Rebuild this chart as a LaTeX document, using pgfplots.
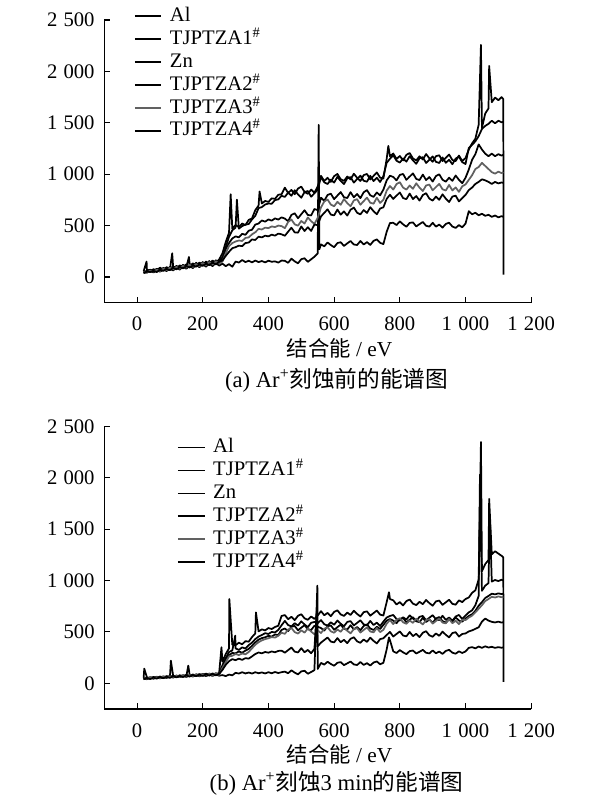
\documentclass[border=0pt]{standalone}
\usepackage{fontspec}
\setmainfont{Liberation Serif}
\newfontfamily\cjk{Noto Sans CJK SC}
\usepackage{pgfplots}
\usepackage{pgfplotstable}
\pgfplotsset{compat=1.18}

% panel (a): x, Al(A), TJPTZA1(B), TJPTZA2(C), TJPTZA3(D), TJPTZA4(E), Zn(F)
\pgfplotstableread{
x A B C D E F
20 55 48 42 46 38 40
29 150 nan nan nan nan nan
30 72 60 55 40 52 45
40 58 70 48 62 50 58
50 75 55 68 52 60 44
60 66 80 58 70 48 62
70 90 62 75 58 70 52
80 72 88 64 80 60 70
90 95 70 85 66 78 58
100 80 98 72 90 66 80
107 nan nan 230 nan nan nan
110 102 78 95 74 88 64
120 88 108 80 98 75 90
130 112 86 102 80 95 72
140 98 118 88 108 84 100
150 122 95 112 90 105 80
158 nan 195 nan nan nan nan
160 105 128 96 118 92 108
170 132 100 122 98 112 86
180 112 138 104 126 100 118
190 140 108 130 105 122 95
200 120 145 112 136 108 125
210 150 115 140 112 130 100
220 128 155 118 145 115 132
230 160 122 150 120 140 105
240 138 162 128 152 122 140
250 170 135 158 130 148 110
260 230 175 190 150 160 130
270 340 290 270 230 205 105
280 430 390 330 300 245 125
285 805 nan nan nan nan nan
290 470 455 375 330 280 100
300 505 480 395 345 290 150
304 nan 752 nan nan nan nan
310 485 470 385 355 305 140
320 520 495 420 350 300 165
330 505 510 410 380 330 145
340 555 515 450 385 335 158
350 570 560 460 415 365 142
360 650 595 510 435 360 160
370 695 670 520 468 392 145
373 832 nan nan nan nan nan
380 715 680 550 462 385 155
390 740 705 538 480 402 142
400 730 715 560 475 395 158
410 765 712 548 492 412 148
420 760 748 570 485 402 152
430 800 755 558 500 422 140
440 805 790 580 495 415 160
450 869 779 568 475 401 157
460 817 820 542 535 441 138
470 847 790 604 559 479 178
480 805 844 620 512 434 152
490 860 803 571 499 431 133
500 879 771 611 545 492 173
510 827 826 649 520 447 182
520 809 836 603 579 484 147
530 850 781 599 543 448 172
540 820 814 661 516 510 197
550 880 850 650 575 505 230
553 nan nan nan nan nan 1480
555 nan nan nan nan nan 270
560 984 971 771 677 589 317
570 934 921 741 734 624 298
580 965 904 798 754 658 336
590 925 947 810 704 607 310
600 981 918 757 688 599 290
610 1002 974 792 731 656 330
620 951 934 826 702 606 338
630 935 904 776 758 638 302
640 977 960 768 719 597 327
650 949 972 825 688 654 350
660 1004 918 775 745 675 316
670 965 953 807 757 625 311
680 934 986 767 703 609 350
690 991 936 824 738 651 316
700 1002 927 845 772 623 339
710 949 984 795 722 679 312
720 983 933 779 713 640 351
730 1017 965 822 770 610 366
740 966 924 794 720 666 332
750 958 981 850 751 678 320
760 1150 1110 940 840 760 440
765 1275 nan nan nan nan nan
770 1175 1150 985 885 800 525
780 1201 1184 973 850 759 527
790 1148 1131 940 904 791 505
800 1177 1113 993 922 822 541
810 1134 1153 1002 869 768 512
820 1188 1122 945 850 757 489
830 1206 1175 977 890 811 526
840 1153 1134 1008 858 758 531
850 1134 1101 954 911 787 492
860 1174 1155 943 869 743 514
870 1143 1165 996 836 797 535
880 1196 1109 943 890 815 498
890 1154 1141 972 899 762 490
900 1121 1173 928 843 743 527
910 1175 1120 982 875 782 490
920 1184 1109 999 906 751 510
930 1128 1163 946 853 804 480
940 1160 1111 927 841 762 516
950 1191 1140 966 895 729 528
960 1138 1097 935 842 782 491
970 1127 1152 987 871 791 477
980 1181 1170 945 828 735 505
990 1128 1117 912 882 767 483
1000 1157 1099 965 900 798 519
1010 1240 1255 1045 945 845 640
1020 1300 1285 1140 990 870 610
1030 1345 1320 1195 1050 905 625
1040 1480 1370 1290 1070 925 600
1047 2258 nan nan nan nan nan
1050 1450 1440 1240 1110 950 615
1060 1590 1470 1200 1080 940 595
1070 1640 1490 1175 1050 925 605
1072 2053 nan nan nan nan nan
1080 1700 1520 1200 1020 905 585
1090 1745 1495 1175 1005 925 598
1100 1720 1520 1195 1025 910 580
1110 1750 1505 1180 1010 920 592
1115 1730 1510 1190 1020 915 585
1116 22 nan nan nan nan nan
}\dataA

% panel (b)
\pgfplotstableread{
x A B C D E F
20 50 45 42 48 40 44
22 143 nan nan nan nan nan
30 58 48 55 45 52 40
40 48 60 45 56 42 52
50 62 50 58 48 55 45
60 52 64 48 60 46 56
70 66 54 62 50 60 48
80 56 68 52 64 50 60
90 70 58 66 55 64 52
100 60 72 56 68 54 64
103 nan nan 220 nan nan nan
110 74 62 72 58 68 56
120 64 76 60 72 58 68
130 78 65 74 62 72 60
140 68 80 64 76 62 72
150 82 68 78 66 76 62
156 nan 172 nan nan nan nan
160 72 84 68 80 66 76
170 86 72 82 70 80 66
180 75 88 72 84 70 80
190 90 76 86 72 84 68
200 78 92 75 88 72 82
210 94 80 90 76 86 70
220 82 95 78 92 76 84
230 96 82 92 78 90 72
240 85 98 80 94 78 86
250 100 88 95 82 92 74
257 350 nan nan nan nan nan
260 210 175 165 150 130 80
270 285 245 235 205 180 70
280 340 305 275 262 215 85
281 820 nan nan nan nan nan
290 375 320 295 268 235 78
299 nan 464 nan nan nan nan
300 372 340 292 285 225 102
310 395 325 310 275 240 95
320 380 350 298 290 228 108
330 410 338 318 282 245 96
340 405 372 335 305 240 105
350 450 395 365 340 262 95
360 485 430 398 375 285 108
362 690 nan nan nan nan nan
370 505 455 425 400 300 98
380 525 470 440 418 292 106
390 515 488 448 430 305 96
400 538 480 462 438 298 108
410 528 500 455 450 310 98
420 548 495 475 445 302 110
430 560 520 470 462 315 100
440 655 565 520 492 318 108
450 664 607 533 481 298 114
460 624 567 508 523 323 98
470 647 553 550 538 348 126
480 615 585 558 498 308 104
490 657 562 516 484 300 87
500 672 603 541 516 342 116
510 632 572 566 493 302 122
520 618 547 526 534 325 93
530 650 589 518 503 293 110
540 627 597 560 478 335 128
547 nan nan nan nan 700 nan
549 nan nan nan nan nan 950
550 660 585 550 515 360 140
560 702 615 538 489 396 198
570 662 575 513 531 421 182
580 685 561 555 546 446 210
590 653 593 563 506 406 188
600 695 570 521 492 398 171
610 710 611 546 524 440 200
620 670 580 571 501 400 206
630 656 555 531 542 423 177
640 688 597 523 511 391 194
650 665 605 565 486 433 212
660 706 563 525 528 448 184
670 675 588 548 536 408 178
680 650 613 516 494 394 207
690 692 573 558 519 426 179
700 700 565 573 544 403 196
710 658 607 533 504 444 173
720 683 567 519 496 413 202
730 708 590 551 538 388 213
740 668 558 528 498 430 185
750 660 600 569 521 438 200
760 790 640 610 580 470 330
767 886 nan nan nan nan 447
770 820 655 625 615 500 420
780 807 665 610 576 455 311
790 767 625 585 618 480 295
800 790 611 627 633 505 323
810 758 643 635 593 465 301
820 800 620 593 579 457 284
830 815 661 618 611 499 313
840 775 630 643 588 459 319
850 761 605 603 629 482 290
860 793 647 595 598 450 307
870 770 655 637 573 492 325
880 811 613 597 615 507 297
890 780 638 620 623 467 291
900 755 663 588 581 453 320
910 797 623 630 606 485 292
920 805 615 645 631 462 309
930 763 657 605 591 503 286
940 788 617 591 583 472 315
950 813 640 623 625 447 326
960 773 608 600 585 489 298
970 765 650 641 608 497 288
980 807 665 610 576 455 311
990 790 625 600 618 480 295
1000 820 660 630 615 485 310
1010 835 690 655 640 505 345
1020 880 710 672 658 515 352
1030 905 760 705 690 530 340
1040 1010 850 755 725 545 358
1044 nan 2030 nan nan nan nan
1047 2347 nan nan nan nan nan
1050 1090 900 790 760 600 345
1060 1160 950 830 800 630 360
1070 1200 975 850 820 610 348
1072 1795 nan nan nan nan nan
1074 nan 1620 nan nan nan nan
1080 1255 990 872 842 598 355
1090 1285 1005 865 835 592 345
1100 1262 995 875 845 600 352
1110 1240 1008 868 838 590 346
1115 1225 1000 872 840 595 350
1116 15 nan nan nan nan nan
}\dataB

\pgfplotsset{
  spec/.style={
    scale only axis, width=320.25pt, height=212pt,
    xmin=-100, xmax=1200, ymin=-250, ymax=2500,
    axis x line*=bottom, axis y line*=left,
    axis line style={-, line width=0.8pt, black},
    xtick={0,200,...,1200}, ytick={0,500,...,2500},
    tick align=inside, major tick length=4.5pt,
    tick style={line width=0.8pt, black},
    /pgf/number format/assume math mode=true,
    /pgf/number format/1000 sep={\hspace{0.3em}},
    tick label style={font=\fontsize{15.5}{18}\selectfont},
    yticklabel style={anchor=east, inner sep=0pt, xshift=-7pt},
    xticklabel style={anchor=north, inner sep=0pt, yshift=-10.5pt},
    xlabel={{\cjk 结合能} / eV},
    xlabel style={at={(axis description cs:0.551,-0.16)}, anchor=center,
      font=\fontsize{16}{19}\selectfont, inner sep=0pt},
    legend style={draw=none, fill=none, inner sep=0pt, anchor=north west,
      font=\fontsize{15.5}{18}\selectfont,
      nodes={inner sep=1pt, text height=11pt, text depth=3.5pt},
      row sep=0.7pt, column sep=4.75pt},
    legend cell align=left,
    legend image code/.code={\draw[#1] (0pt,0pt) -- (20pt,0pt);},
  },
  blk/.style={black, line width=1.3pt, line join=round},
  gry/.style={black!62, line width=1.3pt, line join=round},
}

\begin{document}
\begin{tikzpicture}
\path[use as bounding box] (0pt,0pt) rectangle (450pt,-599.25pt);

\begin{axis}[spec, at={(78.15pt,-227pt)}, anchor=south west,
  legend style={at={(axis description cs:0.069,1.053)}}]
\addplot[blk] table[x=x, y=A] {\dataA};
\addlegendentry{Al}
\addplot[blk] table[x=x, y=B] {\dataA};
\addlegendentry{TJPTZA1\textsuperscript{\#}}
\addplot[blk] table[x=x, y=F] {\dataA};
\addlegendentry{Zn}
\addplot[blk] table[x=x, y=C] {\dataA};
\addlegendentry{TJPTZA2\textsuperscript{\#}}
\addplot[gry] table[x=x, y=D] {\dataA};
\addlegendentry{TJPTZA3\textsuperscript{\#}}
\addplot[blk] table[x=x, y=E] {\dataA};
\addlegendentry{TJPTZA4\textsuperscript{\#}}
\end{axis}
\node[font=\fontsize{17}{20}\selectfont, inner sep=0pt] at (252.4pt,-285pt)
  {(a) Ar\textsuperscript{+}{\cjk 刻蚀前的能谱图}};

\begin{axis}[spec, at={(78.15pt,-531.75pt)}, anchor=south west,
  legend style={at={(axis description cs:0.170,0.965)}}]
\addplot[blk] table[x=x, y=A] {\dataB};
\addlegendentry{Al}
\addplot[blk] table[x=x, y=B] {\dataB};
\addlegendentry{TJPTZA1\textsuperscript{\#}}
\addplot[blk] table[x=x, y=F] {\dataB};
\addlegendentry{Zn}
\addplot[blk] table[x=x, y=C] {\dataB};
\addlegendentry{TJPTZA2\textsuperscript{\#}}
\addplot[gry] table[x=x, y=D] {\dataB};
\addlegendentry{TJPTZA3\textsuperscript{\#}}
\addplot[blk] table[x=x, y=E] {\dataB};
\addlegendentry{TJPTZA4\textsuperscript{\#}}
\end{axis}
\node[font=\fontsize{17}{20}\selectfont, inner sep=0pt] at (252.5pt,-587.25pt)
  {(b) Ar\textsuperscript{+}{\cjk 刻蚀}3 min{\cjk 的能谱图}};
\end{tikzpicture}
\end{document}
